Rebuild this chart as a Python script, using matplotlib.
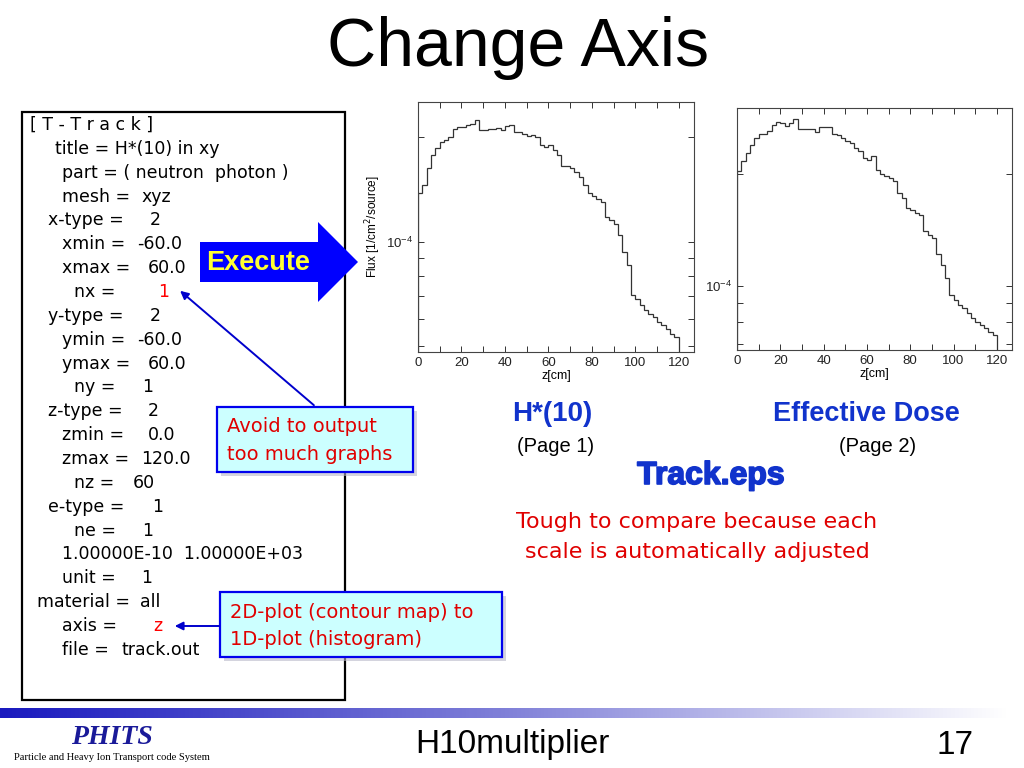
import numpy as np
import matplotlib.pyplot as plt
from matplotlib.patches import Rectangle, Polygon
from matplotlib.ticker import LogLocator, NullFormatter
import matplotlib.patheffects as pe

# z mesh from the [T-Track] input (zmin=0, zmax=120, nz=60)
z_edges = np.linspace(0.0, 120.0, 61)

# Page 1: H*(10)
flux_h10 = np.array([
    1.38, 1.46, 1.63, 1.78, 1.86, 1.94, 1.97, 2.01, 2.12, 2.15,
    2.15, 2.17, 2.19, 2.24, 2.10, 2.10, 2.11, 2.12, 2.13, 2.10,
    2.16, 2.17, 2.08, 2.07, 2.05, 2.02, 2.03, 2.00, 1.90, 1.88,
    1.90, 1.84, 1.78, 1.66, 1.65, 1.63, 1.59, 1.54, 1.46, 1.38,
    1.36, 1.33, 1.30, 1.18, 1.16, 1.13, 1.05, 0.936, 0.856, 0.702,
    0.686, 0.657, 0.635, 0.621, 0.608, 0.588, 0.575, 0.562, 0.544, 0.532,
]) * 1e-4

# Page 2: Effective Dose
flux_dose = np.array([
    2.03, 2.16, 2.27, 2.39, 2.50, 2.56, 2.55, 2.60, 2.70, 2.75,
    2.74, 2.68, 2.74, 2.81, 2.64, 2.64, 2.63, 2.64, 2.59, 2.67,
    2.67, 2.67, 2.55, 2.54, 2.50, 2.44, 2.42, 2.35, 2.30, 2.20,
    2.18, 2.23, 2.05, 1.99, 1.97, 1.95, 1.91, 1.78, 1.72, 1.62,
    1.60, 1.57, 1.55, 1.40, 1.37, 1.34, 1.22, 1.14, 1.05, 0.946,
    0.917, 0.889, 0.871, 0.844, 0.819, 0.802, 0.786, 0.770, 0.754, 0.738,
]) * 1e-4

input_lines = [
    # (indent px, key, value, value x, value colour)
    (30, "[ T - T r a c k ]", "", 0, "k"),
    (55, "title = H*(10) in xy", "", 0, "k"),
    (62, "part = ( neutron  photon )", "", 0, "k"),
    (62, "mesh =", "xyz", 142, "k"),
    (48, "x-type =", "2", 150, "k"),
    (62, "xmin =", "-60.0", 137, "k"),
    (62, "xmax =", "60.0", 148, "k"),
    (74, "nx =", "1", 158, "red"),
    (48, "y-type =", "2", 150, "k"),
    (62, "ymin =", "-60.0", 137, "k"),
    (62, "ymax =", "60.0", 148, "k"),
    (74, "ny =", "1", 142, "k"),
    (48, "z-type =", "2", 148, "k"),
    (62, "zmin =", "0.0", 148, "k"),
    (62, "zmax =", "120.0", 141, "k"),
    (74, "nz =", "60", 133, "k"),
    (48, "e-type =", "1", 152, "k"),
    (74, "ne =", "1", 142, "k"),
    (62, "1.00000E-10  1.00000E+03", "", 0, "k"),
    (62, "unit =", "1", 141, "k"),
    (37, "material =", "all", 140, "k"),
    (62, "axis =", "z", 153, "red"),
    (62, "file =", "track.out", 121, "k"),
]

plt.rcParams['font.family'] = ['Liberation Sans', 'DejaVu Sans']

fig = plt.figure(figsize=(10.24, 7.68), dpi=100)

# overlay in pixel coordinates (y down)
ov = fig.add_axes([0, 0, 1, 1])
ov.set_xlim(0, 1024)
ov.set_ylim(768, 0)
ov.axis('off')

ov.text(518, 48, "Change Axis", fontsize=49, ha='center', va='center')

# input box
ov.add_patch(Rectangle((22, 112), 323, 588, fill=False, ec='black', lw=1.6))
for i, (x0, key, val, vx, vc) in enumerate(input_lines):
    y = 125 + i * 23.86
    ov.text(x0, y, key, fontsize=12.5, family='DejaVu Sans', va='center', ha='left')
    if val:
        ov.text(vx, y, val, fontsize=12.5, family='DejaVu Sans', va='center', ha='left', color=vc)

# Execute arrow
arrow_pts = [(200, 242), (318, 242), (318, 222), (358, 262), (318, 302), (318, 282), (200, 282)]
ov.add_patch(Polygon(arrow_pts, closed=True, fc='#0000ff', ec='none'))
ov.text(258, 263, "Execute", fontsize=19.5, fontweight='bold', color='#ffff33', ha='center', va='center')

# callouts
def callout(x, y, w, h, lines):
    ov.add_patch(Rectangle((x + 4, y + 4), w, h, fc='#b8b8c8', ec='none', alpha=0.6))
    ov.add_patch(Rectangle((x, y), w, h, fc='#ccffff', ec='#0000ee', lw=1.6))
    for j, s in enumerate(lines):
        ov.text(x + 10, y + 20 + j * 27.5, s, fontsize=14, family='DejaVu Sans',
                color='#e00000', va='center', ha='left')

ov.annotate("", xy=(178, 289), xytext=(316, 407),
            arrowprops=dict(arrowstyle='-|>', color='#0000cc', lw=1.4, mutation_scale=12))
callout(217, 407, 196, 65, ["Avoid to output", "too much graphs"])
ov.annotate("", xy=(172, 626), xytext=(222, 626),
            arrowprops=dict(arrowstyle='-|>', color='#0000cc', lw=1.4, mutation_scale=12))
callout(220, 592, 282, 65, ["2D-plot (contour map) to", "1D-plot (histogram)"])

# captions
blue = '#1133cc'
ov.text(552, 414, "H*(10)", fontsize=20, fontweight='bold', color=blue, ha='center', va='center')
ov.text(556, 446, "(Page 1)", fontsize=14.5, ha='center', va='center')
ov.text(866, 414, "Effective Dose", fontsize=19.5, fontweight='bold', color=blue, ha='center', va='center')
ov.text(878, 446, "(Page 2)", fontsize=14.5, ha='center', va='center')
ov.text(711, 476, "Track.eps", fontsize=23, fontweight='bold', color=blue, ha='center', va='center',
        path_effects=[pe.SimpleLineShadow(offset=(1.0, -1.0), shadow_color='#223366', alpha=0.5),
                      pe.withStroke(linewidth=1.2, foreground=blue)])
ov.text(697, 522, "Tough to compare because each", fontsize=16, family='DejaVu Sans',
        color='#e00000', ha='center', va='center')
ov.text(697, 552, "scale is automatically adjusted", fontsize=16, family='DejaVu Sans',
        color='#e00000', ha='center', va='center')

# footer
grad = np.linspace(0, 1, 256).reshape(1, -1)
ov.imshow(grad, cmap=plt.matplotlib.colors.LinearSegmentedColormap.from_list(
    'bar', ['#1a1abf', '#8080d8', '#ffffff']), extent=(0, 1010, 718, 708), aspect='auto', zorder=0)
ov.set_xlim(0, 1024)
ov.set_ylim(768, 0)
ov.text(112, 737, "PHITS", fontsize=20, family='Liberation Serif', fontweight='bold',
        style='italic', color='#1a1a99', ha='center', va='center')
ov.text(112, 757, "Particle and Heavy Ion Transport code System", fontsize=7.6,
        family='Liberation Serif', ha='center', va='center')
ov.text(512, 745, "H10multiplier", fontsize=24, ha='center', va='center')
ov.text(955, 745, "17", fontsize=24, ha='center', va='center')


def hist_panel(rect, values, ylim, ylabel):
    ax = fig.add_axes(rect)
    ax.stairs(values, z_edges, color='#333333', lw=0.9)
    ax.set_yscale('log')
    ax.set_xlim(0, 127)
    ax.set_ylim(*ylim)
    ax.set_xticks([0, 20, 40, 60, 80, 100, 120])
    ax.set_xticks(np.arange(10, 127, 20), minor=True)
    ax.yaxis.set_major_locator(LogLocator(base=10))
    ax.yaxis.set_minor_locator(LogLocator(base=10, subs=np.arange(2, 10)))
    ax.yaxis.set_minor_formatter(NullFormatter())
    ax.tick_params(which='both', direction='in', top=True, right=True,
                   labelsize=9.5, colors='#333333', labelcolor='#222222')
    ax.tick_params(which='major', length=4, width=0.7)
    ax.tick_params(which='minor', length=4, width=0.7)
    for s in ax.spines.values():
        s.set_color('#444444')
        s.set_linewidth(0.8)
    ax.set_xlabel("z[cm]", fontsize=9, labelpad=1)
    if ylabel:
        ax.set_ylabel(ylabel, fontsize=8.5, labelpad=2)
    return ax


hist_panel([418 / 1024, 1 - 352 / 768, 276 / 1024, 250 / 768], flux_h10,
           (4.82e-5, 2.53e-4), "Flux [1/cm$^2$/source]")
hist_panel([737 / 1024, 1 - 350 / 768, 275 / 1024, 242 / 768], flux_dose,
           (6.73e-5, 3.0e-4), None)

fig.savefig("out.png", dpi=100)
